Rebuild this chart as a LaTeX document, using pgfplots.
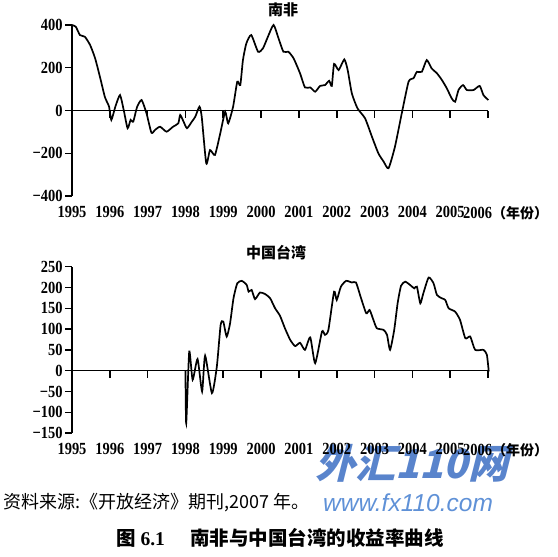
\documentclass[border=0pt]{standalone}
\usepackage{pgfplots}
\pgfplotsset{compat=1.18}
\usepackage{fontspec}
\setmainfont{Liberation Serif}
\newfontfamily\tickfont{Liberation Serif}[FakeStretch=0.85]
\newfontfamily\cjk{Noto Sans CJK SC}
\newfontfamily\cjkslant{Noto Sans CJK SC}[FakeSlant=0.25]
\newfontfamily\urlfont{Liberation Sans}
\definecolor{wmdark}{RGB}{60,110,195}
\definecolor{wmlight}{RGB}{95,145,215}

% shared look of both panels
\pgfplotsset{
  panel/.style={
    scale only axis, width=416bp,
    xmin=1995, xmax=2006,
    axis lines*=left,
    x axis line style={draw=none},
    xtick style={draw=none},
    y axis line style={line width=1.6bp},
    ytick style={line width=1.3bp, black},
    tick align=outside,
    major tick length=7bp,
    xtick={1995,1996,1997,1998,1999,2000,2001,2002,2003,2004,2005,2006},
    xticklabels={1995,1996,1997,1998,1999,2000,2001,2002,2003,2004,2005,
      {\hspace*{8bp}\makebox[0pt][r]{2006}\makebox[0pt][l]{\cjk\bfseries\fontsize{14bp}{14bp}\selectfont （年份）}}},
    xticklabel style={font=\tickfont\bfseries\fontsize{17bp}{17bp}\selectfont},
    yticklabel style={font=\tickfont\bfseries\fontsize{17bp}{17bp}\selectfont, xshift=1bp},
    clip=false,
  },
  curve/.style={black, line width=1.7bp, smooth, tension=0.35, mark=none},
  zeroticks/.style={black, line width=1.6bp, mark=none, forget plot},
}

\begin{document}
\begin{tikzpicture}
\path[use as bounding box] (0,0) rectangle (558bp,-557bp);

% watermark
\node[anchor=west, inner sep=0, text=wmdark, opacity=0.85,
  font=\cjkslant\bfseries\fontsize{40bp}{40bp}\selectfont] at (315bp,-463bp) {外汇110网};
\node[anchor=west, inner sep=0, text=wmlight,
  font=\urlfont\itshape\fontsize{24.5bp}{24.5bp}\selectfont] at (323bp,-503bp) {www.fx110.com};

% South Africa
\begin{axis}[panel, at={(72bp,-196bp)}, anchor=south west, height=171bp,
  ymin=-400, ymax=400,
  ytick={-400,-200,0,200,400},
  yticklabels={−400,−200,0,200,400}]
\addplot[black, line width=1.4bp, mark=none, forget plot] coordinates {(1995,0) (2006,0)};
% short marks under the zero line, one per year
\addplot[zeroticks] coordinates {
  (1996,0) (1996,-33)

  (1997,0) (1997,-33)

  (1998,0) (1998,-33)

  (1999,0) (1999,-33)

  (2000,0) (2000,-33)

  (2001,0) (2001,-33)

  (2002,0) (2002,-33)

  (2003,0) (2003,-33)

  (2004,0) (2004,-33)

  (2005,0) (2005,-33)

  (2006,0) (2006,-33)
};
\addplot[curve] coordinates {
(1995.00,400) (1995.10,392) (1995.21,353) (1995.34,345) (1995.48,306)
(1995.61,245) (1995.74,157) (1995.87,63) (1995.98,18) (1996.04,-44)
(1996.15,20) (1996.27,72) (1996.37,0) (1996.47,-83) (1996.55,-44)
(1996.62,-52) (1996.72,16) (1996.84,49) (1996.97,-13) (1997.10,-104)
(1997.20,-90) (1997.33,-76) (1997.50,-99) (1997.67,-76) (1997.81,-60)
(1997.86,-21) (1997.95,-52) (1998.04,-83) (1998.17,-52) (1998.26,-29)
(1998.37,18) (1998.43,-29) (1998.55,-247) (1998.65,-185) (1998.78,-208)
(1998.92,-107) (1999.05,-6) (1999.13,-60) (1999.26,18) (1999.37,135)
(1999.45,119) (1999.52,236) (1999.61,314) (1999.74,353) (1999.92,275)
(2000.05,291) (2000.18,345) (2000.33,400) (2000.46,338) (2000.59,275)
(2000.72,275) (2000.86,244) (2001.03,174) (2001.16,108) (2001.30,108)
(2001.43,88) (2001.56,115) (2001.69,119) (2001.80,139) (2001.87,115)
(2001.93,218) (2002.05,189) (2002.20,239) (2002.29,189) (2002.40,80)
(2002.55,10) (2002.75,-37) (2002.93,-122) (2003.10,-200) (2003.24,-239)
(2003.37,-270) (2003.54,-169) (2003.72,-13) (2003.90,135) (2004.03,151)
(2004.12,181) (2004.25,181) (2004.38,236) (2004.51,197) (2004.65,174)
(2004.78,143) (2004.91,104) (2005.04,57) (2005.13,41) (2005.22,96)
(2005.34,119) (2005.44,96) (2005.62,96) (2005.78,115) (2005.88,72)
(2006.01,49)
};
\end{axis}

% Taiwan, China
\begin{axis}[panel, at={(72bp,-433bp)}, anchor=south west, height=166.3bp,
  ymin=-150, ymax=250,
  ytick={-150,-100,-50,0,50,100,150,200,250},
  yticklabels={−150,−100,−50,0,50,100,150,200,250}]
\addplot[black, line width=1.4bp, mark=none, forget plot] coordinates {(1995,0) (2006,0)};
\addplot[zeroticks] coordinates {
  (1996,0) (1996,-17)

  (1997,0) (1997,-17)

  (1998,0) (1998,-17)

  (1999,0) (1999,-17)

  (2000,0) (2000,-17)

  (2001,0) (2001,-17)

  (2002,0) (2002,-17)

  (2003,0) (2003,-17)

  (2004,0) (2004,-17)

  (2005,0) (2005,-17)

  (2006,0) (2006,-17)
};
\addplot[curve] coordinates {
(1998.00,0) (1998.02,-127) (1998.10,46) (1998.19,-22) (1998.32,28)
(1998.44,-50) (1998.52,36) (1998.70,-54) (1998.83,10) (1998.93,110)
(1999.00,118) (1999.09,82) (1999.18,114) (1999.27,174) (1999.37,210)
(1999.49,216) (1999.62,206) (1999.67,190) (1999.75,194) (1999.84,172)
(1999.97,188) (2000.11,184) (2000.24,174) (2000.37,150) (2000.50,132)
(2000.63,102) (2000.77,74) (2000.90,59) (2001.03,67) (2001.16,50)
(2001.30,80) (2001.43,18) (2001.61,94) (2001.69,86) (2001.78,98)
(2001.93,190) (2002.00,170) (2002.11,202) (2002.25,216) (2002.40,212)
(2002.51,212) (2002.63,178) (2002.78,138) (2002.87,146) (2002.97,122)
(2003.06,102) (2003.24,98) (2003.33,86) (2003.41,50) (2003.52,98)
(2003.61,162) (2003.70,204) (2003.81,214) (2003.94,206) (2004.05,198)
(2004.12,202) (2004.21,162) (2004.29,186) (2004.43,224) (2004.56,210)
(2004.65,182) (2004.78,174) (2004.87,170) (2004.96,150) (2005.13,142)
(2005.26,122) (2005.40,78) (2005.53,82) (2005.66,50) (2005.88,50)
(2005.97,38) (2006.02,-2)
};
\end{axis}

% titles and captions
\node[font=\cjk\bfseries\fontsize{15bp}{15bp}\selectfont] at (283bp,-10bp) {南非};
\node[font=\cjk\bfseries\fontsize{15bp}{15bp}\selectfont] at (276bp,-253bp) {中国台湾};
\node[anchor=west, inner sep=0, font=\cjk\fontsize{18bp}{18bp}\selectfont]
  at (3bp,-503bp) {资料来源:《开放经济》期刊,2007 年。};
\node[font=\fontsize{19.5bp}{19.5bp}\selectfont] at (280bp,-538bp)
  {{\cjk\bfseries 图}\hspace{0.25em}{\bfseries 6.1}\hspace{1.3em}{\cjk\bfseries 南非与中国台湾的收益率曲线}};
\end{tikzpicture}
\end{document}
